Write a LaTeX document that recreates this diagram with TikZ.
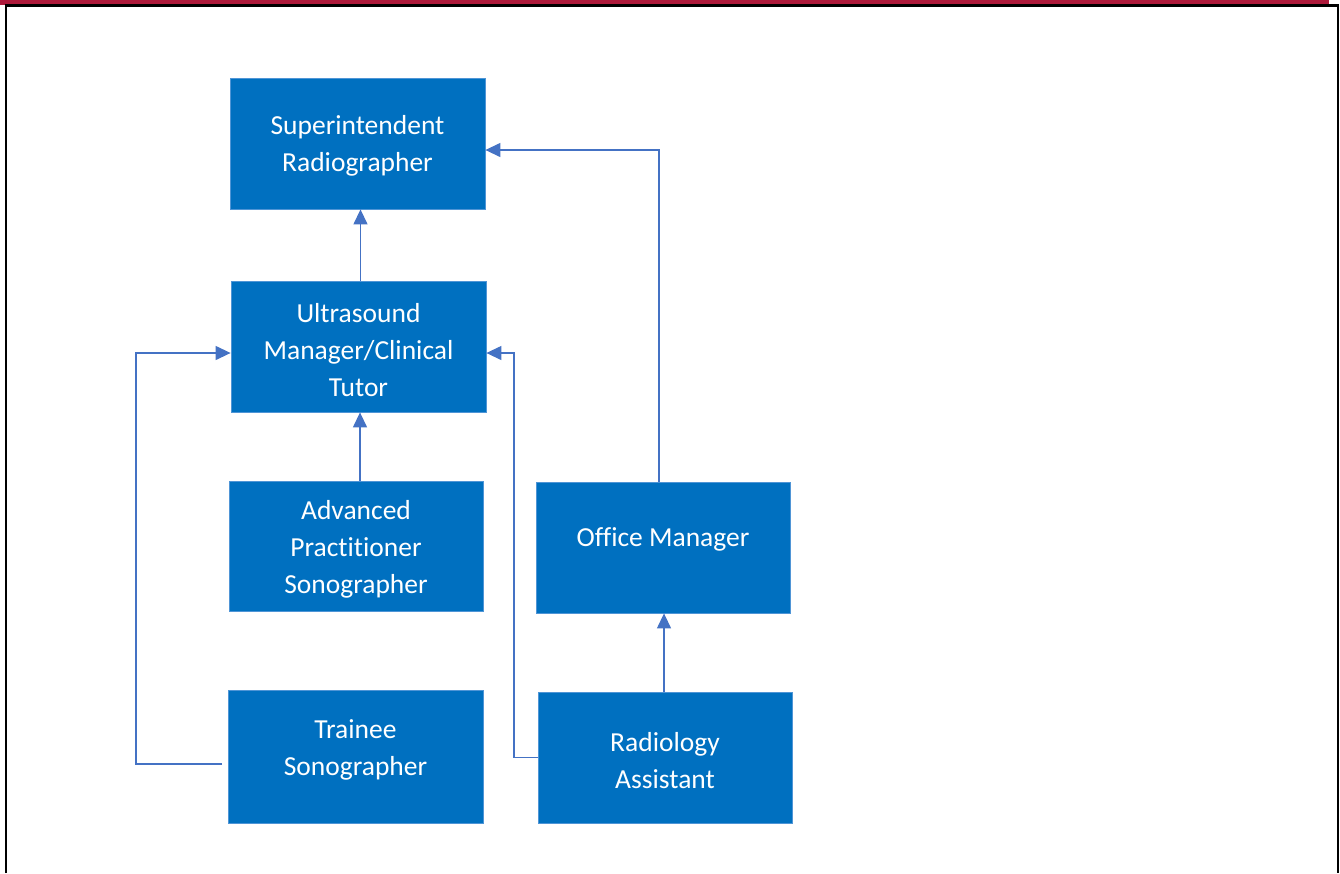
\documentclass[tikz,border=0pt]{standalone}
\usepackage{fontspec}
\setmainfont{Carlito}[Ligatures=NoCommon]
\usetikzlibrary{arrows.meta}
\definecolor{boxblue}{HTML}{0070C0}
\definecolor{boxedge}{HTML}{4F95D6}
\definecolor{linkblue}{HTML}{4472C4}
\definecolor{barred}{HTML}{AD1A3B}
\newcommand\boxtext[2]{\raisebox{#1}[\height][\depth]{\begin{tabular}{@{}c@{}}#2\end{tabular}}}
\begin{document}
\begin{tikzpicture}[x=1pt,y=-1pt,
  orgbox/.style={rectangle, fill=boxblue, draw=boxedge, line width=0.8pt,
    minimum width=255pt, minimum height=131pt, inner sep=0pt,
    text=white, align=center, font=\fontsize{27.5}{37}\selectfont},
  conn/.style={draw=linkblue, line width=1.3pt,
    -{Triangle[length=15pt,width=14pt]}}]
\useasboundingbox (0,0) rectangle (1340,873);
% frame
\fill[barred] (0,0) rectangle (1329,4.5);
\draw[black, line width=2.6pt] (6,873) -- (6,5.3) -- (1338,5.3) -- (1338,873);
% boxes
\node[orgbox] (sup) at (357.5,143.5) {\boxtext{-2.5pt}{Superintendent\\Radiographer}};
\node[orgbox] (ult) at (358.5,346.5) {\boxtext{-6pt}{Ultrasound\\Manager/Clinical\\Tutor}};
\node[orgbox, minimum width=254pt, minimum height=130pt] (adv) at (356,546) {\boxtext{-3pt}{Advanced\\Practitioner\\Sonographer}};
\node[orgbox, minimum height=133pt] (tra) at (355.5,756.5) {\boxtext{7pt}{Trainee\\Sonographer}};
\node[orgbox, minimum width=254pt] (off) at (663,547.5) {\boxtext{8pt}{Office Manager}};
\node[orgbox, minimum width=254pt] (rad) at (665,757.5) {\boxtext{-5pt}{Radiology\\Assistant}};
% connectors
\draw[conn] ([xshift=2pt]ult.north) -- ([xshift=2pt]ult.north |- sup.south);
\draw[conn] ([xshift=4pt]adv.north) -- ([xshift=4pt]adv.north |- ult.south);
\coordinate (tstart) at ([xshift=-5.5pt,yshift=-7.5pt]tra.west);
\draw[conn] (tstart) -- (136,764) |- ([yshift=-6.5pt]ult.west);
\draw[conn] (rad.west) -- (514,757.5) |- ([yshift=-6.5pt]ult.east);
\draw[conn] ([xshift=-4pt]off.north) |- ([yshift=-6.5pt]sup.east);
\draw[conn] ([xshift=-1pt]rad.north) -- ([xshift=-1pt]rad.north |- off.south);
\end{tikzpicture}
\end{document}
